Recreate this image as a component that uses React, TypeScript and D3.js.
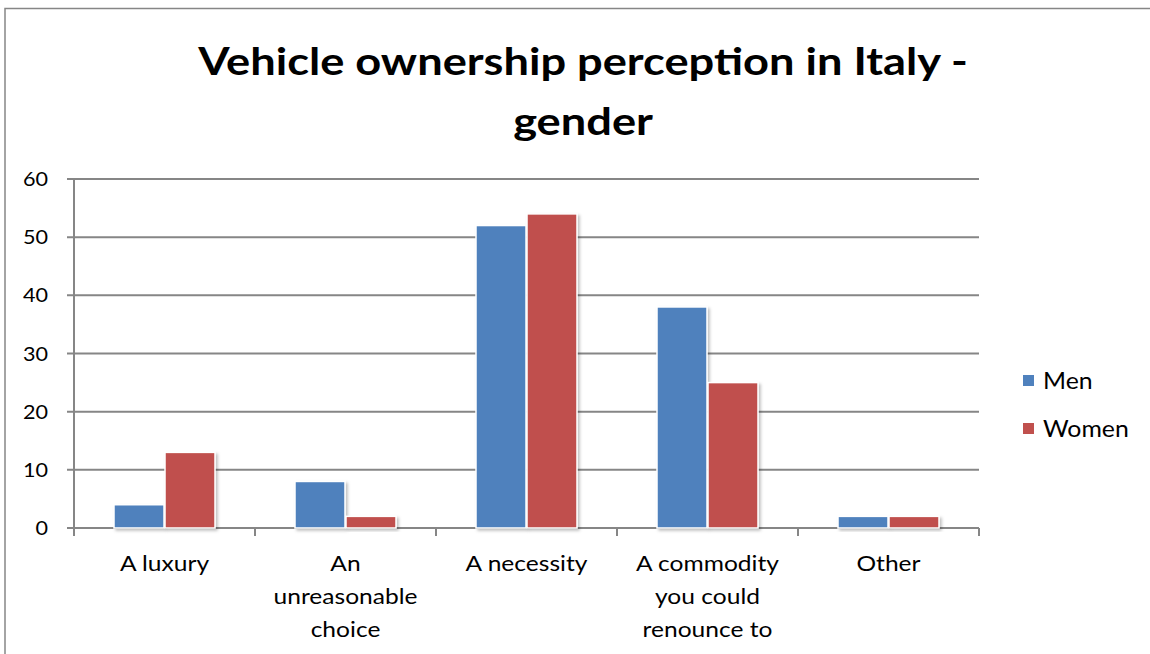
import React from "react";
import * as d3 from "d3";

const categories: string[][] = [
  ["A luxury"],
  ["An", "unreasonable", "choice"],
  ["A necessity"],
  ["A commodity", "you could", "renounce to"],
  ["Other"],
];
const seriesNames = ["Men", "Women"];
const menValues = [4, 8, 52, 38, 2];
const womenValues = [13, 2, 54, 25, 2];
const yTicks = [0, 10, 20, 30, 40, 50, 60];
const colors = ["#4F81BD", "#C0504D"];
const titleLines = ["Vehicle ownership perception in Italy -", "gender"];

export default function App() {
  const W = 1150, H = 654;
  const left = 74, right = 979, top = 179, bottom = 528;
  const font = "Lato, 'Open Sans', sans-serif";
  const x = d3.scaleBand<number>().domain(d3.range(categories.length)).range([left, right]).paddingInner(0).paddingOuter(0);
  const y = d3.scaleLinear().domain([0, 60]).range([bottom, top]);
  const bw = x.bandwidth();
  const inner = d3.scaleBand<number>().domain([0, 1]).range([40, bw - 40]).paddingInner(0.02);
  const series = [menValues, womenValues];
  const sx = 1.17;
  return (
    <svg width={W} height={H} style={{ position: "absolute", left: 0, top: 0, display: "block", fontFamily: font }}>
      <defs>
        <filter id="sh" x="-20%" y="-20%" width="150%" height="150%">
          <feDropShadow dx="2" dy="2" stdDeviation="1.5" floodColor="#000" floodOpacity="0.25" />
        </filter>
      </defs>
      <rect x={0} y={0} width={W} height={H} fill="#fff" />
      <rect x={5} y={8.5} width={W + 10} height={H} fill="none" stroke="#868686" strokeWidth={1.5} />
      {titleLines.map((t, i) => (
        <g key={i} transform={`translate(583,${75 + i * 60}) scale(${1.19},1)`}>
          <text x={0} y={0} textAnchor="middle" fontSize={38} fontWeight="bold" fill="#000">{t}</text>
        </g>
      ))}
      {yTicks.map((t) => (
        <g key={t}>
          <line x1={left - 7} x2={right} y1={y(t)} y2={y(t)} stroke="#868686" strokeWidth={2} />
          <g transform={`translate(48,${y(t) + 7}) scale(1.08,1)`}>
            <text x={0} y={0} textAnchor="end" fontSize={20} fill="#000">{t}</text>
          </g>
        </g>
      ))}
      <line x1={left} x2={left} y1={top} y2={bottom + 8} stroke="#868686" strokeWidth={2} />
      {d3.range(categories.length + 1).map((i) => {
        const xx = i < categories.length ? (x(i) as number) : right;
        return <line key={i} x1={xx} x2={xx} y1={bottom} y2={bottom + 8} stroke="#868686" strokeWidth={2} />;
      })}
      {series.map((vals, s) =>
        vals.map((v, i) => {
          const bx = (x(i) as number) + (inner(s) as number);
          return (
            <rect key={`${s}-${i}`} x={bx} y={y(v)} width={inner.bandwidth()} height={bottom - y(v)}
              fill={colors[s]} stroke="#fff" strokeWidth={1.5} filter="url(#sh)" />
          );
        })
      )}
      {categories.map((lines, i) =>
        lines.map((l, j) => (
          <g key={`${i}-${j}`} transform={`translate(${(x(i) as number) + bw / 2},${571 + j * 33}) scale(${sx},1)`}>
            <text x={0} y={0} textAnchor="middle" fontSize={21} fill="#000">{l}</text>
          </g>
        ))
      )}
      {seriesNames.map((n, i) => (
        <g key={n}>
          <rect x={1023} y={375 + i * 48} width={11} height={11} fill={colors[i]} />
          <g transform={`translate(1043,${389 + i * 48}) scale(1.08,1)`}>
            <text x={0} y={0} fontSize={23} fill="#000">{n}</text>
          </g>
        </g>
      ))}
    </svg>
  );
}
